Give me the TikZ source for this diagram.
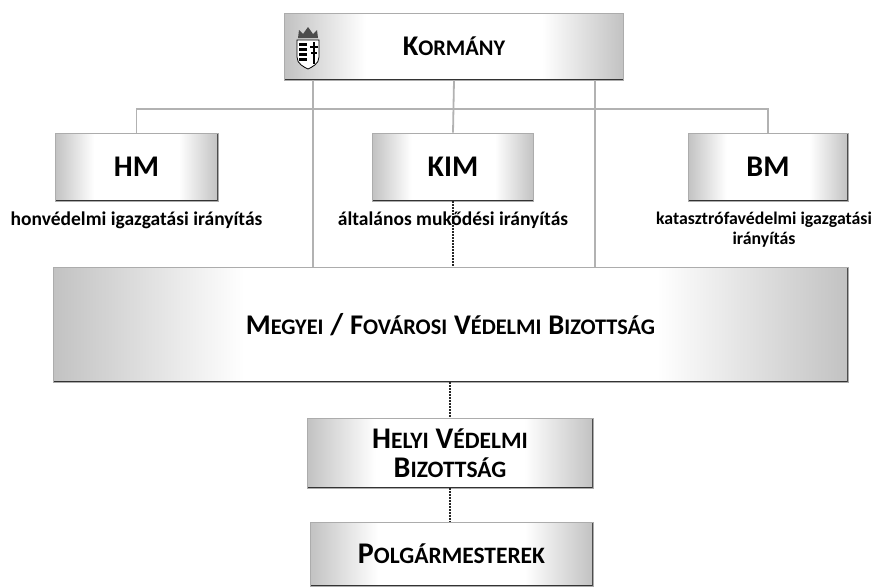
\documentclass[tikz,border=0pt]{standalone}
\usepackage{fontspec}
\setmainfont{Carlito}
\usetikzlibrary{positioning,calc}
\pgfdeclarehorizontalshading{boxshade}{100bp}{color(0bp)=(gray!48); color(25bp)=(gray!48);
    color(37bp)=(white); color(63bp)=(white); color(75bp)=(gray!48); color(100bp)=(gray!48)}
\tikzset{box/.style={draw=gray!65,line width=0.8pt,shading=boxshade,
    inner sep=0pt,align=center,font=\bfseries\fontsize{30}{29}\selectfont,
    path picture={
      \draw[black!80,line width=3pt] (path picture bounding box.south west) -- (path picture bounding box.south east);
      \draw[black!70,line width=1.6pt] (path picture bounding box.north east) -- (path picture bounding box.south east);}}}
\tikzset{link/.style={draw=gray!60,line width=1.8pt}}
\tikzset{dots/.style={draw=black!85,line width=1.6pt,dash pattern=on 1.5pt off 1.5pt}}
\tikzset{note/.style={font=\bfseries\fontsize{19.5}{21}\selectfont,align=center,inner sep=0pt}}
\newcommand{\scw}[2]{{\fontsize{30}{29}\selectfont #1}{\fontsize{23.5}{29}\selectfont #2}}
\newcommand{\scwk}[2]{{\fontsize{28.5}{29}\selectfont #1}{\fontsize{22.3}{29}\selectfont #2}}

\begin{document}
\begin{tikzpicture}[x=1pt,y=-1pt]
    \useasboundingbox (0,0) rectangle (881,587);
    \node[box,minimum width=339,minimum height=67] (korm) at (454,46.5) {\scwk{K}{ORMÁNY}};
    \node[box,minimum width=163,minimum height=68] (hm) at (136.5,167) {HM};
    \node[box,minimum width=161,minimum height=68] (kim) at (453,167) {KIM};
    \node[box,minimum width=160,minimum height=68] (bm) at (768,167) {BM};
    \node[box,minimum width=795,minimum height=115] (megye) at (450.5,324.5)
        {\scwk{M}{EGYEI} / \scwk{F}{OVÁROSI} \scwk{V}{ÉDELMI} \scwk{B}{IZOTTSÁG}};
    \node[box,minimum width=286,minimum height=70] (hvb) at (450,453)
        {\scw{H}{ELYI} \scw{V}{ÉDELMI}\\\scw{B}{IZOTTSÁG}};
    \node[box,minimum width=283,minimum height=64] (polg) at (451.5,554) {\scw{P}{OLGÁRMESTEREK}};
    \coordinate (bus) at (453,109);
    \draw[link] (hm.north) |- (bus) -| (bm.north);
    \draw[link] (korm.south) -- (kim.north);
    \draw[link] ([xshift=-141pt]korm.south) -- ([xshift=-141pt]korm.south |- megye.north);
    \draw[link] ([xshift=141pt]korm.south) -- ([xshift=141pt]korm.south |- megye.north);
    \draw[dots] (kim.south) -- (kim.south |- megye.north);
    \draw[dots] (megye.south -| hvb.north) -- (hvb.north);
    \draw[dots] (hvb.south) -- (hvb.south |- polg.north);
    \node[note,below=10pt of hm] (hmtxt) {honvédelmi igazgatási irányítás};
    \node[note,below=10pt of kim] (kimtxt) {általános mukődési irányítás};
    \node[note,font=\bfseries\fontsize{17.8}{20}\selectfont,below=10pt of bm,xshift=-4pt] (bmtxt)
        {katasztrófavédelmi igazgatási\\irányítás};
    \begin{scope}[shift={(297,27)}]
        \fill[gray!60!black] (1,11) -- (2,3) -- (6,7) -- (11,0) -- (16,7) -- (20,3) -- (21,11) -- cycle;
        \draw[black,line width=0.8pt,fill=white] (0,13) -- (22,13) -- (22,30)
            .. controls (22,37) and (15,40) .. (11,42) .. controls (7,40) and (0,37) .. (0,30) -- cycle;
        \foreach \s in {16,21,26,31}
            \fill[black] (1.5,\s) rectangle (10,\s+2.5);
        \fill[black] (15.5,15) rectangle (17.5,37);
        \fill[black] (12.5,19) rectangle (20.5,21);
        \fill[black] (13.5,25) rectangle (19.5,27);
    \end{scope}
\end{tikzpicture}
\end{document}
